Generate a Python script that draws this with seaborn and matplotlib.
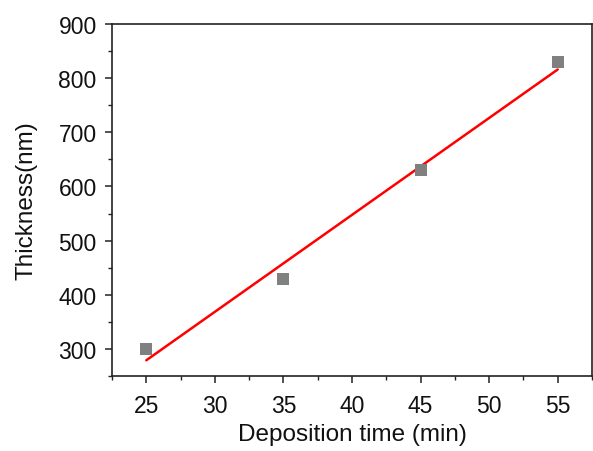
import numpy as np
import pandas as pd
import matplotlib
matplotlib.use("Agg")
import matplotlib.pyplot as plt
import seaborn as sns
from matplotlib.ticker import MultipleLocator

# data
dep_time = [25, 35, 45, 55]
thickness = [300, 430, 630, 830]

df = pd.DataFrame({"time": dep_time, "thickness": thickness})

sns.set_style("ticks")
plt.rcParams["font.family"] = ["Liberation Sans", "DejaVu Sans"]

fig = plt.figure(figsize=(5.93, 4.52), dpi=100)
ax = fig.add_axes([112 / 593, 1 - 377 / 452, 480 / 593, 352 / 452])

# linear fit line
coef = np.polyfit(df["time"], df["thickness"], 1)
fx = np.array([min(dep_time), max(dep_time)])
sns.lineplot(x=fx, y=np.polyval(coef, fx), color="#ff0000", linewidth=1.8, ax=ax)
sns.scatterplot(data=df, x="time", y="thickness", marker="s", s=70,
                color="#808080", edgecolor="#808080", linewidth=0, ax=ax, zorder=3)

ax.set_xlim(22.5, 57.5)
ax.set_ylim(250, 900)
ax.xaxis.set_major_locator(MultipleLocator(5))
ax.xaxis.set_minor_locator(MultipleLocator(2.5))
ax.yaxis.set_major_locator(MultipleLocator(100))
ax.yaxis.set_minor_locator(MultipleLocator(50))
ax.set_yticks(range(300, 901, 100))

for s in ax.spines.values():
    s.set_color("#222222")
    s.set_linewidth(1.2)
ax.tick_params(which="major", length=5, width=1.1, labelsize=16.5, pad=6,
               color="#222222", labelcolor="#111111")
ax.tick_params(which="minor", length=3, width=1.0, color="#222222")
ax.tick_params(axis="x", which="major", pad=8)

ax.set_xlabel("Deposition time (min)", fontsize=17.5, labelpad=4, color="#111111")
ax.set_ylabel("Thickness(nm)", fontsize=17.5, labelpad=15, color="#111111")

fig.savefig("out.png", dpi=100)
